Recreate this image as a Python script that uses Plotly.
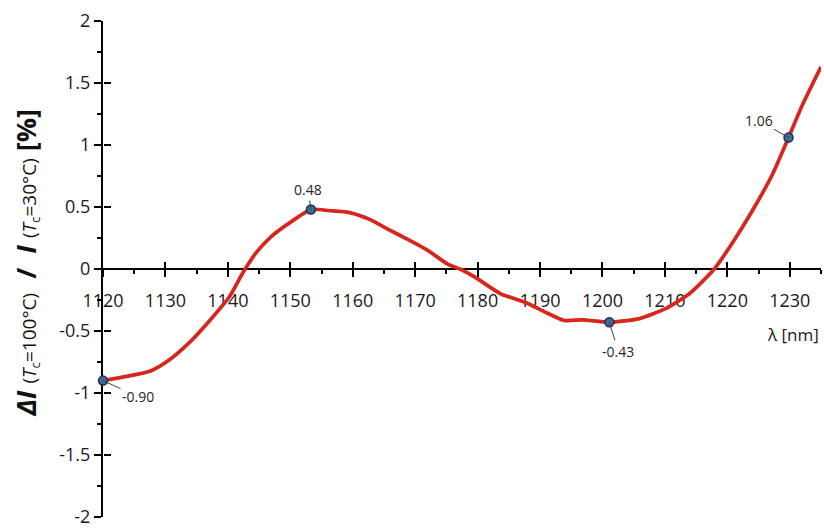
import plotly.graph_objects as go

# ---- data ----
wavelength = [1120, 1127.7, 1130.7, 1133.9, 1137.1, 1140.3, 1142.4, 1144.5, 1146.9, 1150.4,
              1153.3, 1156.3, 1159.5, 1162.7, 1165.3, 1168.0, 1171.7, 1175.2, 1177.6, 1179.7,
              1183.7, 1187.7, 1190.9, 1193.9, 1196.8, 1201.1, 1205.9, 1210.1, 1213.9, 1217.9,
              1220.8, 1224.0, 1227.2, 1229.8, 1232.0, 1235.0]
delta_pct = [-0.90, -0.82, -0.73, -0.59, -0.415, -0.22, -0.03, 0.13, 0.26, 0.39,
             0.48, 0.47, 0.455, 0.40, 0.33, 0.26, 0.16, 0.04, -0.01, -0.07,
             -0.20, -0.27, -0.35, -0.415, -0.41, -0.43, -0.40, -0.32, -0.20, 0.0,
             0.21, 0.47, 0.76, 1.06, 1.32, 1.63]

marked_x = [1120, 1153.3, 1201.1, 1229.8]
marked_y = [-0.90, 0.48, -0.43, 1.06]
marked_text = ["-0.90", "0.48", "-0.43", "1.06"]
label_dx = [35, -3, 9, -30]
label_dy = [16, -20, 29, -17]

x_ticks = [1120, 1130, 1140, 1150, 1160, 1170, 1180, 1190, 1200, 1210, 1220, 1230]
x_ticktext = [str(v) for v in x_ticks]
y_ticks = [2, 1.5, 1, 0.5, 0, -0.5, -1, -1.5, -2]
y_ticktext = ["2", "1.5", "1", "0.5", "0", "-0.5", "-1", "-1.5", "-2"]

X_RANGE = [1120, 1235]
Y_RANGE = [-2, 2]
FONT = "Open Sans"

fig = go.Figure()
fig.add_trace(go.Scatter(
    x=wavelength, y=delta_pct, mode="lines",
    line=dict(color="#d6261d", width=3.7, shape="spline", smoothing=0.6),
    cliponaxis=False, showlegend=False, hoverinfo="skip"))
fig.add_trace(go.Scatter(
    x=marked_x, y=marked_y, mode="markers",
    marker=dict(size=9, color="#40699a", line=dict(color="#1b2f4a", width=1.5)),
    cliponaxis=False, showlegend=False, hoverinfo="skip"))
# helper trace for the overlay axes (gives crossing major ticks)
fig.add_trace(go.Scatter(x=[None], y=[None], xaxis="x2", yaxis="y2",
                         showlegend=False, hoverinfo="skip"))

for xv, yv, t, dx, dy in zip(marked_x, marked_y, marked_text, label_dx, label_dy):
    fig.add_annotation(x=xv, y=yv, text=t, showarrow=True, arrowhead=0,
                       arrowwidth=1, arrowcolor="#404040", ax=dx, ay=dy,
                       font=dict(family=FONT, size=14, color="#262626"))

fig.add_annotation(xref="paper", yref="paper", x=1.0, y=0.368, xanchor="right",
                   yanchor="middle", showarrow=False, text="λ [nm]",
                   font=dict(family=FONT, size=17, color="#1a1a1a"))

title_txt = ("<b><i>ΔI</i></b> <span style='font-size:19px'>(<i>T</i><sub>c</sub>=100°C)</span>"
             "  <b>/</b>  <b><i>I</i></b> <span style='font-size:19px'>(<i>T</i><sub>c</sub>=30°C)</span>"
             " <b>[%]</b>")
fig.add_annotation(xref="paper", yref="paper", x=-0.108, y=0.514, xanchor="center",
                   yanchor="middle", showarrow=False, textangle=-90, text=title_txt,
                   font=dict(family=FONT, size=27, color="#111111"))

axis_common = dict(showgrid=False, zeroline=False)
fig.update_layout(
    width=824, height=531,
    margin=dict(l=103, r=3, t=21, b=6),
    paper_bgcolor="white", plot_bgcolor="white",
    font=dict(family=FONT, color="#1a1a1a"),
    xaxis=dict(range=X_RANGE, anchor="free", position=0.5, layer="below traces",
               showline=True, linecolor="black", linewidth=2,
               tickmode="array", tickvals=x_ticks, ticktext=x_ticktext,
               ticks="outside", ticklen=7, tickwidth=2, tickcolor="black",
               ticklabelstandoff=8, ticklabeloverflow="allow",
               tickfont=dict(family=FONT, size=18, color="#1a1a1a"),
               minor=dict(dtick=5, tick0=1120, ticks="outside", ticklen=4,
                          tickwidth=2, tickcolor="black"),
               **axis_common),
    yaxis=dict(range=Y_RANGE, layer="below traces",
               showline=True, linecolor="black", linewidth=2,
               tickmode="array", tickvals=y_ticks, ticktext=y_ticktext,
               ticks="outside", ticklen=7, tickwidth=2, tickcolor="black",
               ticklabeloverflow="allow",
               tickfont=dict(family=FONT, size=18, color="#1a1a1a"),
               minor=dict(dtick=0.25, tick0=0, ticks="outside", ticklen=4,
                          tickwidth=2, tickcolor="black"),
               **axis_common),
    xaxis2=dict(range=X_RANGE, overlaying="x", anchor="free", position=0.5,
                layer="below traces", showline=False, showticklabels=False,
                tickmode="array", tickvals=x_ticks,
                ticks="inside", ticklen=7, tickwidth=2, tickcolor="black",
                **axis_common),
    yaxis2=dict(range=Y_RANGE, overlaying="y", anchor="free", position=0,
                layer="below traces", showline=False, showticklabels=False,
                tickmode="array", tickvals=y_ticks,
                ticks="inside", ticklen=7, tickwidth=2, tickcolor="black",
                **axis_common),
)

fig.write_html("out.html", config={"displayModeBar": False},
               post_script="document.body.style.margin='0';document.body.style.overflow='hidden';")
